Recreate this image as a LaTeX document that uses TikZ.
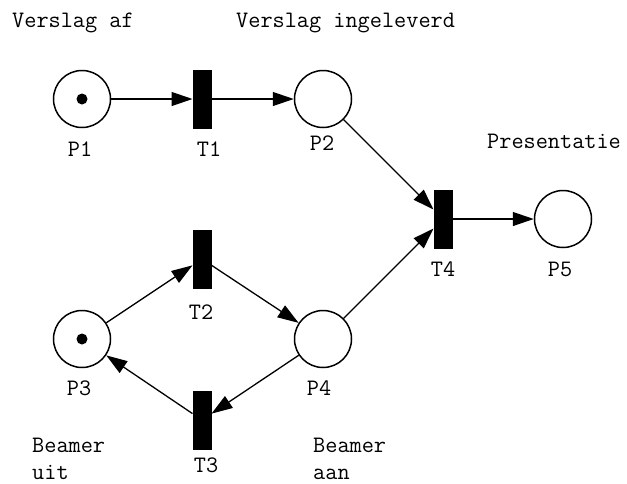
\documentclass[tikz,border=0pt]{standalone}
\usepackage{fontspec}
\usetikzlibrary{arrows.meta}
\begin{document}
\begin{tikzpicture}[x=1pt,y=-1pt,
  place/.style={circle,draw,line width=1.5pt,minimum size=57pt,inner sep=0pt},
  trans/.style={rectangle,fill=black,minimum width=19pt,minimum height=59pt,inner sep=0pt,outer sep=0pt},
  token/.style={circle,fill=black,minimum size=11pt,inner sep=0pt},
  lbl/.style={font=\fontsize{23.6}{27}\selectfont\ttfamily,inner sep=0pt,anchor=base},
  note/.style={lbl,anchor=base west,align=left},
  arc/.style={line width=1.3pt,-{Triangle[length=21pt,width=14pt]}}]
\useasboundingbox (0,0) rectangle (627,483);

% places
\node[place] (P1) at (82,99) {};
\node[token] (P1t) at (82,99) {};
\node[place] (P2) at (323,99) {};
\node[place] (P3) at (82,339) {};
\node[token] (P3t) at (82,339) {};
\node[place] (P4) at (323,339) {};
\node[place] (P5) at (563,219) {};

% transitions
\node[trans] (T1) at (202,99) {};
\node[trans] (T2) at (202,259) {};
\node[trans] (T3) at (202,420) {};
\node[trans] (T4) at (443,219) {};

% arcs
\draw[arc] (P1) -- (T1);
\draw[arc] (T1) -- (P2);
\draw[arc] (P2) -- (T4);
\draw[arc] (P4) -- (T4);
\draw[arc] (T4) -- (P5);
\draw[arc] (P3) -- (T2);
\draw[arc] (T2) -- (P4);
\draw[arc] (P4) -- (T3);
\draw[arc] (T3) -- (P3);

% identifiers
\node[lbl] (lP1) at (80,156) {P1};
\node[lbl] (lT1) at (209,156) {T1};
\node[lbl] (lP2) at (322,150) {P2};
\node[lbl] (lT4) at (443,276) {T4};
\node[lbl] (lP5) at (560,276) {P5};
\node[lbl] (lT2) at (201,319) {T2};
\node[lbl] (lP3) at (79,395) {P3};
\node[lbl] (lP4) at (319,395) {P4};
\node[lbl] (lT3) at (206,472) {T3};

% descriptions (multi-line ones sit on the baseline of their last line)
\node[note] (nVa) at (12,27) {Verslag af};
\node[note] (nVi) at (236,27) {Verslag ingeleverd};
\node[note] (nPr) at (487,148) {Presentatie};
\node[note] (nBu) at (32,479) {Beamer\\uit};
\node[note] (nBa) at (313,479) {Beamer\\aan};
\end{tikzpicture}
\end{document}
